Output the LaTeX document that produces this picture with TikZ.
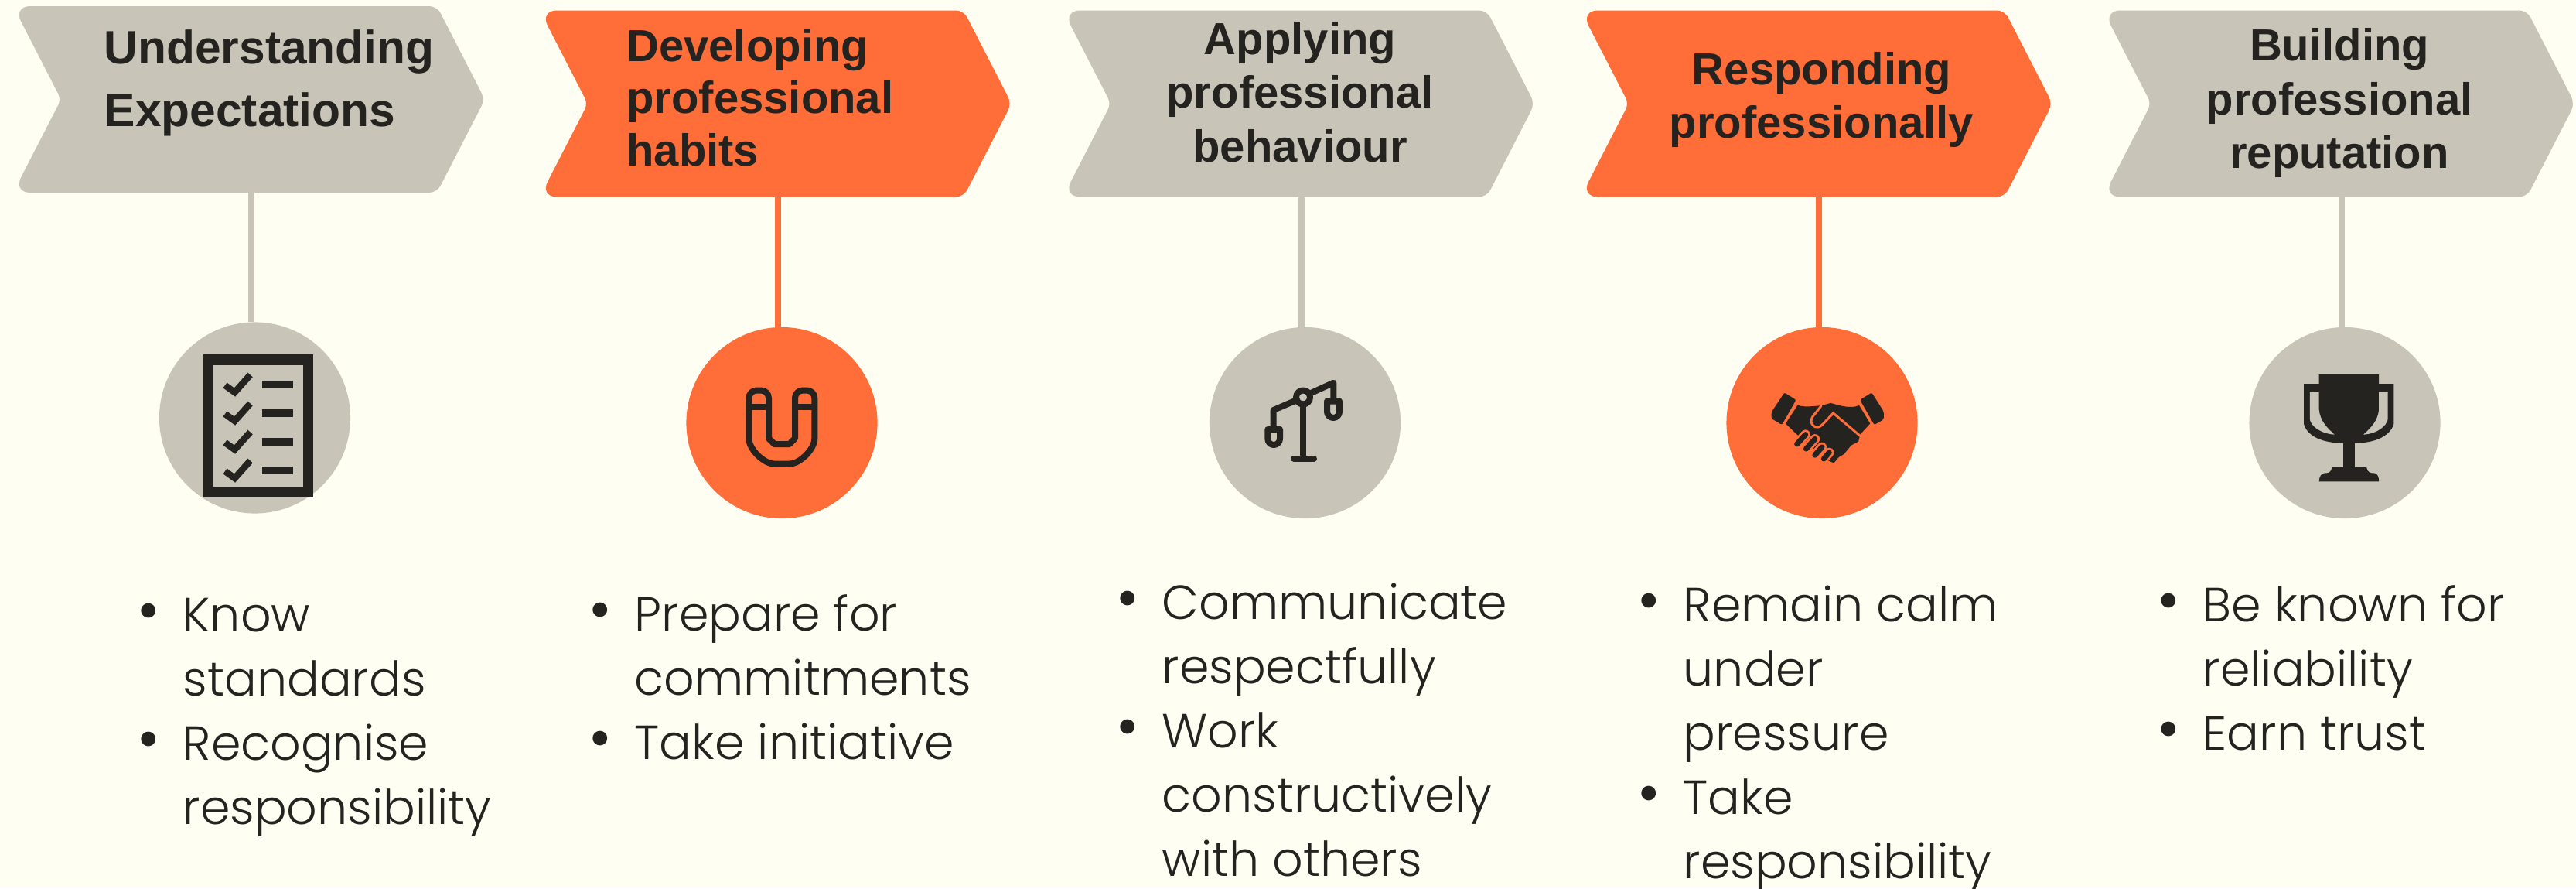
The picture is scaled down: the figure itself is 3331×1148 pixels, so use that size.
\documentclass[tikz,border=0pt]{standalone}
\usepackage{fontspec}
\setmainfont{Liberation Sans}
\newfontfamily\bodyFont{Poppins Light}
\definecolor{paperTone}{HTML}{FFFEF3}
\definecolor{paleGrey}{HTML}{C9C4B8}
\definecolor{hotOrange}{HTML}{FF6D38}
\definecolor{inkTone}{HTML}{242320}
\newcommand{\itm}{\llap{{\fontsize{23}{23}\selectfont\textbullet}\hspace{0.3cm}}}
\begin{document}
\begin{tikzpicture}
[x=0.01cm,y=-0.01cm,%
  chevShape/.style={shape=rectangle,minimum width=6.01cm,minimum height=2.41cm,inner sep=0pt,outer sep=0pt},%
  spotShape/.style={shape=circle,minimum size=2.47cm,inner sep=0pt,outer sep=0pt},%
  headText/.style={font=\fontsize{16.5}{19.75}\selectfont\bfseries,text=inkTone,inner sep=0pt,align=center,anchor=base},%
  listText/.style={font=\bodyFont\fontsize{17.6}{23.56}\selectfont,text=inkTone,inner sep=0pt,align=left,anchor=base west},%
  linkLine/.style={-,line width=0.08cm},%
  iconLine/.style={draw=inkTone,line width=0.08cm,line join=round,line cap=round}]
\fill[paperTone] (0,0) rectangle (3331,1148);
\useasboundingbox (0,0) rectangle (3331,1148);
%% arrows, circles and the lines between them
\foreach \nodename/\x/\y/\cx/\cy/\shade in {1/325/128.5/329.5/540/paleGrey, 2/1006/134/1011/546.5/hotOrange, 3/1682.5/134/1687.5/546.5/paleGrey, 4/2352/134/2356/546.5/hotOrange, 5/3027.5/134/3032/546.5/paleGrey}
{
  \node (chev\nodename) at (\x,\y) [chevShape] {};
  \fill[\shade,shift={(\x,\y)}] (0,-120.5) [rounded corners=0.1cm] -- (240,-120.5) -- (302,0) -- (240,120.5)
    [rounded corners=0.22cm] -- (-308,120.5) [rounded corners=0.08cm] -- (-246,0) [rounded corners=0.22cm] -- (-308,-120.5) [sharp corners] -- cycle;
  \node (spot\nodename) at (\cx,\cy) [spotShape,fill=\shade] {};
  \draw[linkLine,draw=\shade] (chev\nodename.south) -- (chev\nodename.south |- spot\nodename.north);
}
%% headings
\node (head1) at (134,163) [headText,anchor=base west,align=left,font=\fontsize{17.2}{22.76}\selectfont\bfseries] {Understanding\\Expectations};
\node (head2) at (809.6,214) [headText,anchor=base west,align=left,font=\fontsize{16.5}{19.1}\selectfont\bfseries] {Developing\\professional\\habits};
\node (head3) at (1681,209) [headText] {Applying\\professional\\behaviour};
\node (head4) at (2355.5,178.8) [headText] {Responding\\professionally};
\node (head5) at (3025,217.6) [headText] {Building\\professional\\reputation};
%% bullet lists
\node (list1) at (236,1065) [listText] {\itm Know\\standards\\\itm Recognise\\responsibility};
\node (list2) at (820,981) [listText] {\itm Prepare for\\commitments\\\itm Take initiative};
\node (list3) at (1502,1132) [listText] {\itm Communicate\\respectfully\\\itm Work\\constructively\\with others};
\node (list4) at (2176,1135) [listText] {\itm Remain calm\\under\\pressure\\\itm Take\\responsibility};
\node (list5) at (2848,969.5) [listText] {\itm Be known for\\reliability\\\itm Earn trust};
%% checklist icon
\draw[inkTone,line width=0.135cm] (269.3,464.8) rectangle (398.7,636.2);
\foreach \y in {497,534,571,608}
{
  \draw[inkTone,line width=0.085cm] (291,\y+1) -- (303.5,\y+10) -- (323.6,\y-12.5);
  \fill[inkTone] (339,\y-5) rectangle (379,\y+5);
}
%% magnet icon
\draw[iconLine,rounded corners=0.1cm] (994,557) -- (994,504.5) -- (968.4,504.5) -- (968.4,557)
  .. controls (968.4,580.4) and (987.6,599.5) .. (1011,599.5) .. controls (1034.4,599.5) and (1053.3,580.4) .. (1053.3,557)
  -- (1053.3,504.5) -- (1028,504.5) -- (1028,557)
  .. controls (1028,566.4) and (1020.4,574) .. (1011,574) .. controls (1001.6,574) and (994,566.4) .. (994,557) -- cycle;
\draw[iconLine,line cap=butt] (968.4,525.7) -- (994,525.7);
\draw[iconLine,line cap=butt] (1028,525.7) -- (1053.3,525.7);
%% scales icon
\draw[iconLine] (1685,522) -- (1685,592.6);
\draw[iconLine] (1673,592.6) -- (1699,592.6);
\draw[iconLine] (1646.7,551) -- (1646.7,530) -- (1677,517);
\draw[iconLine] (1724.3,516) -- (1724.3,494.7) -- (1693,509);
\draw[iconLine] (1685,513.5) circle (9);
\draw[iconLine] (1639.3,555) -- (1655,555) -- (1655,567) .. controls (1655,571.5) and (1651.5,575) .. (1647,575) .. controls (1642.8,575) and (1639.3,571.5) .. (1639.3,567) -- cycle;
\draw[iconLine] (1716,518.5) -- (1732,518.5) -- (1732,532) .. controls (1732,536.5) and (1728.5,540) .. (1724,540) .. controls (1719.5,540) and (1716,536.5) .. (1716,532) -- cycle;
%% handshake icon, in the crop's own units
\begin{scope}[xshift=20.4cm,x=0.00408cm,y=-0.00408cm]
  \fill[inkTone,rounded corners=0.02cm] (653,1245) -- (690,1268) -- (645,1347) -- (612,1327) -- (612,1307) -- cycle;
  \fill[inkTone,rounded corners=0.02cm] (930,1245) -- (893,1268) -- (938,1347) -- (968,1330) -- (968,1305) -- cycle;
  \fill[inkTone] (695,1285) .. controls (715,1292) and (745,1288) .. (770,1286) -- (800,1278) .. controls (825,1285) and (865,1298) .. (890,1285)
    -- (925,1343) -- (893,1378) -- (888,1400) -- (865,1412) -- (842,1440) -- (825,1450) -- (810,1468) -- (790,1460) -- (690,1375) -- (657,1343) -- cycle;
  \draw[hotOrange,line width=0.03cm,line cap=round] (770,1287) -- (742,1322) .. controls (728,1345) and (755,1368) .. (775,1345) -- (808,1310) -- (893,1382);
  \foreach \ax/\ay/\bx/\by in {693/1408/720/1378, 722/1423/750/1392, 750/1443/772/1418, 778/1455/795/1435}
  {
    \draw[hotOrange,line width=0.125cm,line cap=round] (\ax,\ay) -- (\bx,\by);
    \draw[inkTone,line width=0.07cm,line cap=round] (\ax,\ay) -- (\bx,\by);
  }
\end{scope}
%% trophy icon, in the crop's own units
\begin{scope}[xshift=26.91cm,x=0.00408cm,y=-0.00408cm]
  \fill[inkTone] (751,1187) -- (941,1187) -- (941,1217) -- (988,1217) -- (988,1345) .. controls (975,1385) and (925,1405) .. (864,1405)
    -- (864,1482) -- (902,1482) .. controls (905,1500) and (915,1500) .. (925,1500) .. controls (935,1500) and (941,1510) .. (941,1527)
    -- (751,1527) .. controls (751,1510) and (760,1500) .. (770,1500) .. controls (780,1500) and (788,1500) .. (792,1482)
    -- (828,1482) -- (828,1405) .. controls (765,1405) and (715,1385) .. (703,1345) -- (703,1217) -- (751,1217) -- cycle;
  \fill[paleGrey] (722,1243) -- (751,1243) -- (751,1300) .. controls (755,1335) and (775,1355) .. (800,1378) .. controls (755,1375) and (725,1350) .. (722,1330) -- cycle;
  \fill[paleGrey] (969,1243) -- (941,1243) -- (941,1300) .. controls (937,1335) and (917,1355) .. (892,1378) .. controls (937,1375) and (965,1350) .. (969,1330) -- cycle;
\end{scope}
\end{tikzpicture}
\end{document}
